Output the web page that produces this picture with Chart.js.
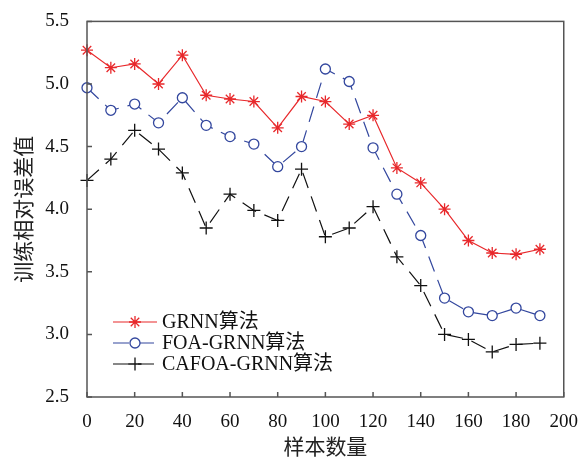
<!DOCTYPE html>
<html>
<head>
<meta charset="utf-8">
<script src="https://cdn.jsdelivr.net/npm/chart.js@4/dist/chart.umd.min.js"></script>
<style>
  body { margin: 0; background: #fff; }
</style>
</head>
<body>
<canvas id="myChart" width="584" height="459"></canvas>
<script>
// sample counts on the x axis
var sampleCounts = [0, 10, 20, 30, 40, 50, 60, 70, 80, 90, 100, 110, 120, 130, 140, 150, 160, 170, 180, 190];
// training relative error
var grnn = [5.27, 5.13, 5.16, 5.00, 5.23, 4.91, 4.88, 4.86, 4.65, 4.90, 4.86, 4.68, 4.75, 4.33, 4.21, 4.00, 3.75, 3.65, 3.64, 3.68];
var foaGrnn = [4.97, 4.79, 4.84, 4.69, 4.89, 4.67, 4.58, 4.52, 4.34, 4.50, 5.12, 5.02, 4.49, 4.12, 3.79, 3.29, 3.18, 3.15, 3.21, 3.15];
var cafoaGrnn = [4.23, 4.40, 4.63, 4.48, 4.29, 3.85, 4.12, 3.99, 3.91, 4.32, 3.78, 3.85, 4.02, 3.62, 3.39, 3.00, 2.96, 2.86, 2.92, 2.93];
var seriesNames = ['GRNN算法', 'FOA-GRNN算法', 'CAFOA-GRNN算法'];
var xTicks = [0, 20, 40, 60, 80, 100, 120, 140, 160, 180, 200];
var yTicks = [2.5, 3.0, 3.5, 4.0, 4.5, 5.0, 5.5];

var serif = '"Liberation Serif", "Times New Roman", "Noto Sans CJK SC", serif';
var cjk = '"Noto Sans CJK SC", sans-serif';

function pts(ys) {
  return sampleCounts.map(function (x, i) { return { x: x, y: ys[i] }; });
}

function drawMarker(ctx, style, x, y, r, color) {
  ctx.save();
  ctx.strokeStyle = color;
  ctx.lineWidth = 1.3;
  ctx.setLineDash([]);
  ctx.beginPath();
  if (style === 'star') {
    for (var k = 0; k < 4; k++) {
      var a = k * Math.PI / 4;
      ctx.moveTo(x - r * Math.cos(a), y - r * Math.sin(a));
      ctx.lineTo(x + r * Math.cos(a), y + r * Math.sin(a));
    }
    ctx.stroke();
  } else if (style === 'circle') {
    ctx.fillStyle = '#fff';
    ctx.arc(x, y, r, 0, Math.PI * 2);
    ctx.fill();
    ctx.stroke();
  } else {
    ctx.moveTo(x - r, y); ctx.lineTo(x + r, y);
    ctx.moveTo(x, y - r); ctx.lineTo(x, y + r);
    ctx.stroke();
  }
  ctx.restore();
}

// frame, inward ticks and the line+marker legend
var framePlugin = {
  id: 'frame',
  afterDraw: function (chart) {
    var ctx = chart.ctx, a = chart.chartArea;
    var xs = chart.scales.x, ys = chart.scales.y;
    ctx.save();
    ctx.strokeStyle = '#555';
    ctx.lineWidth = 1.5;
    ctx.strokeRect(a.left, a.top, a.right - a.left, a.bottom - a.top);
    ctx.beginPath();
    xTicks.forEach(function (v) {
      var px = xs.getPixelForValue(v);
      ctx.moveTo(px, a.bottom); ctx.lineTo(px, a.bottom - 5);
    });
    yTicks.forEach(function (v) {
      var py = ys.getPixelForValue(v);
      ctx.moveTo(a.left, py); ctx.lineTo(a.left + 5, py);
    });
    ctx.stroke();
    ctx.restore();

    // legend
    var rows = [322, 343, 364];
    chart.data.datasets.forEach(function (ds, i) {
      var y = rows[i];
      ctx.save();
      ctx.strokeStyle = ds.borderColor;
      ctx.lineWidth = ds.borderWidth;
      ctx.setLineDash(ds.borderDash || []);
      ctx.beginPath();
      ctx.moveTo(113, y);
      ctx.lineTo(157, y);
      ctx.stroke();
      ctx.restore();
      drawMarker(ctx, ds.pointStyle, 135, y, ds.pointRadius, ds.borderColor);
      ctx.save();
      ctx.fillStyle = '#111';
      ctx.font = '20px ' + serif;
      ctx.textBaseline = 'middle';
      ctx.fillText(ds.label, 162, y + 1);
      ctx.restore();
    });
  }
};

var ctx = document.getElementById('myChart').getContext('2d');
var lineChart = new Chart(ctx, {
  type: 'line',
  data: {
    datasets: [{
      label: seriesNames[0],
      data: pts(grnn),
      borderColor: '#e8282b',
      borderWidth: 1.2,
      pointStyle: 'star',
      pointRadius: 6,
      pointBorderWidth: 1.3,
      pointBackgroundColor: '#e8282b',
      clip: false
    }, {
      label: seriesNames[1],
      data: pts(foaGrnn),
      borderColor: '#33479e',
      borderWidth: 1.2,
      borderDash: [16, 9],
      pointStyle: 'circle',
      pointRadius: 5,
      pointBorderWidth: 1.3,
      pointBackgroundColor: '#fff',
      clip: false
    }, {
      label: seriesNames[2],
      data: pts(cafoaGrnn),
      borderColor: '#111',
      borderWidth: 1.2,
      borderDash: [16, 9],
      pointStyle: 'cross',
      pointRadius: 6.5,
      pointBorderWidth: 1.3,
      clip: false
    }]
  },
  options: {
    responsive: false,
    animation: false,
    devicePixelRatio: 1,
    layout: { padding: { top: 21, right: 20, left: 0, bottom: 0 } },
    plugins: { legend: { display: false }, tooltip: { enabled: false } },
    elements: { line: { tension: 0 } },
    scales: {
      x: {
        type: 'linear',
        min: 0,
        max: 200,
        afterFit: function (s) { s.height = 62; },
        afterBuildTicks: function (s) { s.ticks = xTicks.map(function (v) { return { value: v }; }); },
        grid: { display: false },
        border: { display: false },
        ticks: { padding: 6, color: '#111', font: { family: serif, size: 19 }, maxRotation: 0 },
        title: { display: true, text: '样本数量', color: '#222', font: { family: cjk, size: 21 }, padding: { top: 0, bottom: 0 } }
      },
      y: {
        min: 2.5,
        max: 5.5,
        afterFit: function (s) { s.width = 87; },
        afterBuildTicks: function (s) { s.ticks = yTicks.map(function (v) { return { value: v }; }); },
        grid: { display: false },
        border: { display: false },
        ticks: {
          padding: 10, color: '#111', font: { family: serif, size: 19 },
          callback: function (v) { return Number(v).toFixed(1); }
        },
        title: { display: true, text: '训练相对误差值', color: '#222', font: { family: cjk, size: 21 }, padding: { top: 10, bottom: 0 } }
      }
    }
  },
  plugins: [framePlugin]
});
</script>
</body>
</html>
